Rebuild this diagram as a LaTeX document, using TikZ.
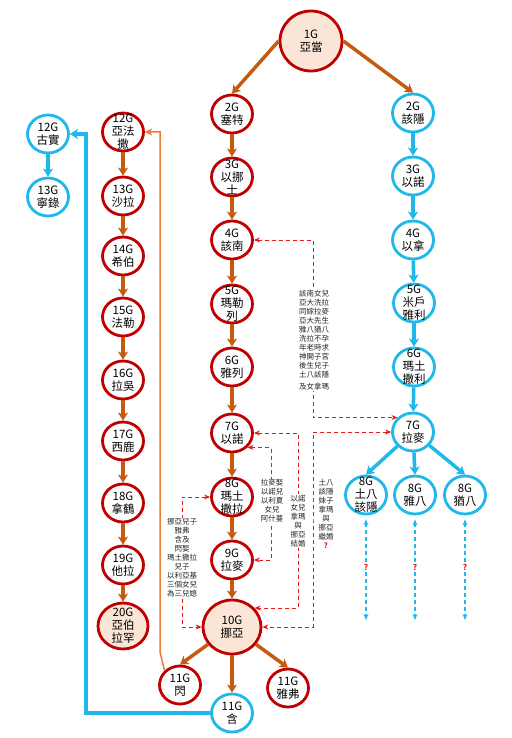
\documentclass[tikz,border=0pt]{standalone}
\usepackage{fontspec}
\setmainfont{Noto Sans CJK TC}
\usetikzlibrary{arrows.meta,shapes.geometric}
\definecolor{rb}{HTML}{C00000}
\definecolor{cb}{HTML}{1FB8EA}
\definecolor{br}{HTML}{C55A11}
\definecolor{pe}{HTML}{FBE5D6}
\definecolor{og}{HTML}{ED7D31}
\definecolor{dr}{HTML}{E31A1A}
\tikzset{
  gen/.style={ellipse, draw=rb, line width=2.8pt, fill=white, minimum width=41pt, minimum height=38pt, inner sep=0pt},
  blu/.style={gen, draw=cb},
  big/.style={gen, fill=pe},
  lbl/.style={font=\fontsize{11.5}{13}\selectfont, align=center, inner sep=0pt},
  barr/.style={br, line width=3.5pt, -{Stealth[length=8pt,width=10pt,inset=2pt]}},
  carr/.style={cb, line width=3.5pt, -{Stealth[length=8pt,width=10pt,inset=2pt]}},
  oarr/.style={og, line width=1.5pt, -{Stealth[length=7pt,width=7pt,inset=1.5pt]}},
  rdash/.style={dr, line width=1pt, dash pattern=on 4pt off 3pt, {Stealth[length=6pt,width=5pt]}-{Stealth[length=6pt,width=5pt]}},
  bdash/.style={cb, line width=1.2pt, dash pattern=on 4pt off 3pt, shorten <=4pt, {Stealth[length=6pt,width=5pt]}-{Stealth[length=6pt,width=5pt]}},
  qm/.style={text=dr, font=\fontsize{8}{9}\selectfont\bfseries, fill=white, inner sep=0.5pt},
  note/.style={font=\fontsize{7.5}{9}\selectfont, align=center, fill=white, inner sep=1pt, text=black!85},
  noteb/.style={note, fill=none}
}
\newcommand\gnode[4]{\node[#1, label={[lbl]center:{#4}}] (#2) at #3 {};}
\begin{document}
\begin{tikzpicture}[x=1pt,y=-1pt]
\fill[white] (0,0) rectangle (511,738);
\useasboundingbox (0,0) rectangle (511,738);
% main line
\gnode{big,minimum width=62pt,minimum height=60pt}{g1}{(311,41)}{1G\\亞當}
\gnode{gen}{s2}{(232,114)}{2G\\塞特}
\gnode{gen}{e3}{(232,177)}{3G\\以挪\\士}
\gnode{gen}{k4}{(232,240)}{4G\\該南}
\gnode{gen}{m5}{(232,304)}{5G\\瑪勒\\列}
\gnode{gen}{j6}{(232,367)}{6G\\雅列}
\gnode{gen}{h7}{(232,433)}{7G\\以諾}
\gnode{gen}{m8}{(232,497)}{8G\\瑪土\\撒拉}
\gnode{gen}{l9}{(232,560)}{9G\\拉麥}
\gnode{big,minimum width=58pt,minimum height=54pt}{n10}{(232,627)}{10G\\挪亞}
% Cain line
\gnode{blu}{c2}{(413,113)}{2G\\該隱}
\gnode{blu}{c3}{(413,176)}{3G\\以諾}
\gnode{blu}{c4}{(413,240)}{4G\\以拿}
\gnode{blu}{c5}{(414,303)}{5G\\米戶\\雅利}
\gnode{blu}{c6}{(414,367)}{6G\\瑪土\\撒利}
\gnode{blu}{c7}{(413,432)}{7G\\拉麥}
\gnode{blu}{t8}{(366,495)}{8G\\土八\\該隱}
\gnode{blu}{y8}{(415,495)}{8G\\雅八}
\gnode{blu}{u8}{(465,495)}{8G\\猶八}
% sons of Noah
\gnode{gen}{shem}{(180,685)}{11G\\閃}
\gnode{blu}{ham}{(232,713)}{11G\\含}
\gnode{gen}{jap}{(288,688)}{11G\\雅弗}
% Shem line
\gnode{gen}{a12}{(123,132)}{12G\\亞法\\撒}
\gnode{gen}{a13}{(123,196)}{13G\\沙拉}
\gnode{gen}{a14}{(123,256)}{14G\\希伯}
\gnode{gen}{a15}{(123,317)}{15G\\法勒}
\gnode{gen}{a16}{(123,380)}{16G\\拉吳}
\gnode{gen}{a17}{(123,441)}{17G\\西鹿}
\gnode{gen}{a18}{(123,503)}{18G\\拿鶴}
\gnode{gen}{a19}{(123,565)}{19G\\他拉}
\gnode{big,minimum width=50pt,minimum height=46pt}{a20}{(123,626)}{20G\\亞伯\\拉罕}
% Ham line
\gnode{blu}{k12}{(48,134)}{12G\\古實}
\gnode{blu}{k13}{(48,197)}{13G\\寧錄}
% arrows
\draw[barr] (g1.west) -- (s2.north);
\draw[barr] (g1.east) -- (c2.north);
\foreach \a/\b in {s2/e3,e3/k4,k4/m5,m5/j6,j6/h7,h7/m8,m8/l9,l9/n10,a12/a13,a13/a14,a14/a15,a15/a16,a16/a17,a17/a18,a18/a19,a19/a20}
  \draw[barr] (\a) -- (\b);
\foreach \a/\b in {c2/c3,c3/c4,c4/c5,c5/c6,c6/c7,k12/k13}
  \draw[carr] (\a) -- (\b);
\draw[carr] (c7) -- (t8.north);
\draw[carr] (c7) -- (y8.north);
\draw[carr] (c7) -- (u8.north);
\draw[barr] (n10) -- (shem.north);
\draw[barr, line width=4pt] (n10) -- (ham.north);
\draw[barr] (n10) -- (jap.north);
\coordinate (hk) at (86,400);
\draw[carr, line width=4pt] (ham.west) -| (hk) |- (k12.east);
\coordinate (oc) at (160,652);
\draw[oarr] (shem.north west) -- (oc) |- (a12.east);
% red dashed links
\coordinate (d1) at (313,300);
\draw[rdash] (k4.east) -| (d1) |- (c7.north west);
\coordinate (d2) at (298,520);
\draw[rdash] (h7.east) -| (d2) |- (n10.40);
\coordinate (d3) at (271,500);
\draw[rdash] (h7.south east) -| (d3) |- (l9.east);
\coordinate (d4) at (313,520);
\draw[rdash] (c7.west) -| (d4) |- (n10.east);
\coordinate (d5) at (182,560);
\draw[rdash] (m8.west) -| (d5) |- (n10.west);
% blue dashed unknowns
\foreach \n/\x in {t8/366,y8/415,u8/465}{
  \coordinate (\n e) at (\x,620);
  \draw[bdash] (\n.south) -- (\n e);
  \node[qm] (\n q) at (\x,567) {?};
}
% notes
\node[note] (t1) at (314,340) {該南女兒\\亞大洗拉\\同嫁拉麥\\亞大先生\\雅八猶八\\洗拉不孕\\年老時求\\神開子宮\\後生兒子\\土八該隱\\[3pt]及女拿瑪};
\node[note] (t2) at (298,521) {以諾\\女兒\\拿瑪\\與\\挪亞\\結婚};
\node[note] (t3) at (272,501) {拉麥娶\\以諾兒\\以利夏\\女兒\\阿什蔓};
\node[noteb] (t4) at (326,514) {土八\\該隱\\妹子\\拿瑪\\與\\挪亞\\繼婚\\\textcolor{dr}{\bfseries ?}};
\node[note] (t5) at (182,558) {挪亞兒子\\雅弗\\含及\\閃娶\\瑪土撒拉\\兒子\\以利亞基\\三個女兒\\為三兒媳};
\end{tikzpicture}
\end{document}
